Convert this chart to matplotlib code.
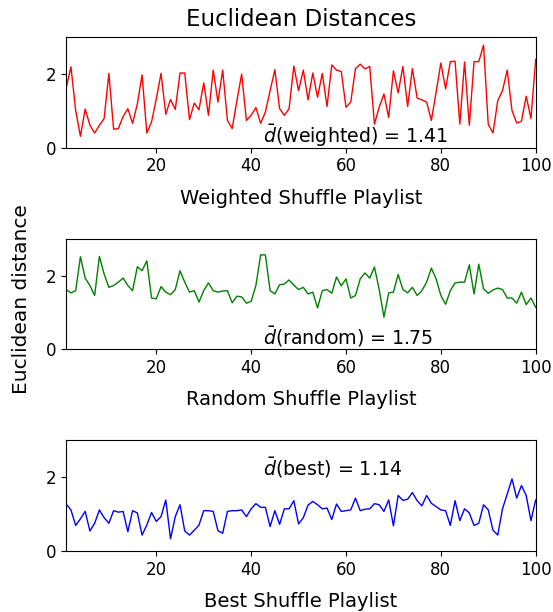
import matplotlib
matplotlib.use("Agg")
import matplotlib.pyplot as plt
import numpy as np

x = list(range(1, 101))

weighted = [1.62, 2.20, 1.01, 0.31, 1.05, 0.61, 0.40, 0.61, 0.79, 2.02,
            0.50, 0.52, 0.85, 1.06, 0.66, 1.19, 1.98, 0.40, 0.70, 1.33,
            2.02, 0.91, 1.31, 1.04, 2.03, 2.03, 0.76, 1.21, 1.03, 1.76,
            0.88, 2.11, 1.24, 2.11, 0.74, 0.52, 1.28, 2.00, 0.74, 0.88,
            1.09, 0.66, 0.97, 1.55, 2.12, 1.06, 0.88, 1.06, 2.22, 1.55,
            2.11, 1.30, 2.03, 1.37, 2.02, 1.12, 2.25, 2.11, 2.07, 1.10,
            1.24, 2.15, 2.27, 2.14, 2.21, 0.64, 1.10, 1.46, 0.82, 2.09,
            1.49, 2.21, 1.12, 2.15, 1.35, 1.30, 1.24, 0.74, 1.51, 2.30,
            1.60, 2.34, 2.35, 0.64, 2.33, 0.61, 2.34, 2.34, 2.79, 0.63,
            0.40, 1.28, 1.55, 2.11, 1.01, 0.67, 0.72, 1.40, 0.79, 2.40]

random_ = [1.62, 1.53, 1.59, 2.51, 1.93, 1.73, 1.46, 2.52, 2.04, 1.68,
           1.73, 1.82, 1.93, 1.73, 1.59, 2.24, 2.13, 2.40, 1.39, 1.37,
           1.70, 1.55, 1.48, 1.62, 2.13, 1.82, 1.55, 1.59, 1.28, 1.59,
           1.80, 1.59, 1.55, 1.58, 1.59, 1.26, 1.44, 1.42, 1.25, 1.30,
           1.73, 2.56, 2.56, 1.59, 1.50, 1.75, 1.77, 1.88, 1.74, 1.62,
           1.68, 1.50, 1.55, 1.12, 1.59, 1.62, 1.52, 1.96, 1.72, 1.91,
           1.39, 1.46, 1.91, 2.07, 1.93, 2.23, 1.62, 0.87, 1.53, 1.55,
           2.03, 1.62, 1.53, 1.68, 1.46, 1.59, 1.82, 2.20, 1.91, 1.46,
           1.22, 1.59, 1.80, 1.82, 1.82, 2.29, 1.50, 2.31, 1.64, 1.52,
           1.61, 1.66, 1.62, 1.39, 1.39, 1.25, 1.55, 1.21, 1.39, 1.14]

best = [1.27, 1.11, 0.69, 0.87, 1.07, 0.54, 0.75, 1.11, 0.90, 0.75,
        1.09, 1.05, 1.07, 0.52, 1.09, 1.03, 0.43, 0.70, 1.04, 0.80,
        0.93, 1.38, 0.33, 0.93, 1.25, 0.54, 0.43, 0.56, 0.70, 1.09,
        1.09, 1.07, 0.55, 0.48, 1.07, 1.09, 1.09, 1.11, 0.93, 1.14,
        1.28, 1.18, 1.18, 0.66, 1.09, 0.72, 1.14, 1.14, 1.36, 0.73,
        0.90, 1.24, 1.34, 1.25, 1.14, 1.16, 0.85, 1.27, 1.07, 1.09,
        1.11, 1.43, 1.09, 1.13, 1.14, 1.28, 1.25, 1.07, 1.38, 0.68,
        1.50, 1.37, 1.40, 1.58, 1.36, 1.22, 1.50, 1.29, 1.20, 1.11,
        1.09, 0.69, 1.36, 0.82, 1.14, 1.03, 0.69, 0.75, 1.25, 1.11,
        0.56, 0.43, 1.14, 1.54, 1.95, 1.43, 1.77, 1.50, 0.82, 1.38]

series = [weighted, random_, best]
colors = ["red", "green", "blue"]
xlabels = ["Weighted Shuffle Playlist", "Random Shuffle Playlist", "Best Shuffle Playlist"]
annots = [r"$\bar{d}$(weighted) = 1.41", r"$\bar{d}$(random) = 1.75", r"$\bar{d}$(best) = 1.14"]
annot_y = [0.12, 0.14, 2.03]

plt.rcParams['font.family'] = ['DejaVu Sans']
plt.rcParams['mathtext.fontset'] = 'dejavusans'
plt.rcParams['font.size'] = 12

fig = plt.figure(figsize=(5.53, 6.12), dpi=100)
bounds = [(0.7587, 0.939), (0.4293, 0.610), (0.0997, 0.281)]
left, right = 0.1197, 0.9687
axes = []
for i, (b, t) in enumerate(bounds):
    ax = fig.add_axes([left, b, right - left, t - b])
    ax.plot(x, series[i], color=colors[i], linewidth=1.0)
    ax.set_xlim(1, 100)
    ax.set_ylim(0, 3)
    ax.set_xticks([20, 40, 60, 80, 100])
    ax.set_yticks([0, 2])
    ax.tick_params(labelsize=12)
    ax.set_xlabel(xlabels[i], fontsize=14, labelpad=9.5)
    ax.text(42.4, annot_y[i], annots[i], fontsize=13.7, ha='left', va='baseline')
    axes.append(ax)

axes[0].set_title("Euclidean Distances", fontsize=16.5, pad=8.5)
fig.text(22 / 553, 1 - 299 / 612, "Euclidean distance", rotation=90,
         ha='center', va='center', fontsize=14.5)

fig.savefig("out.png", dpi=100)
